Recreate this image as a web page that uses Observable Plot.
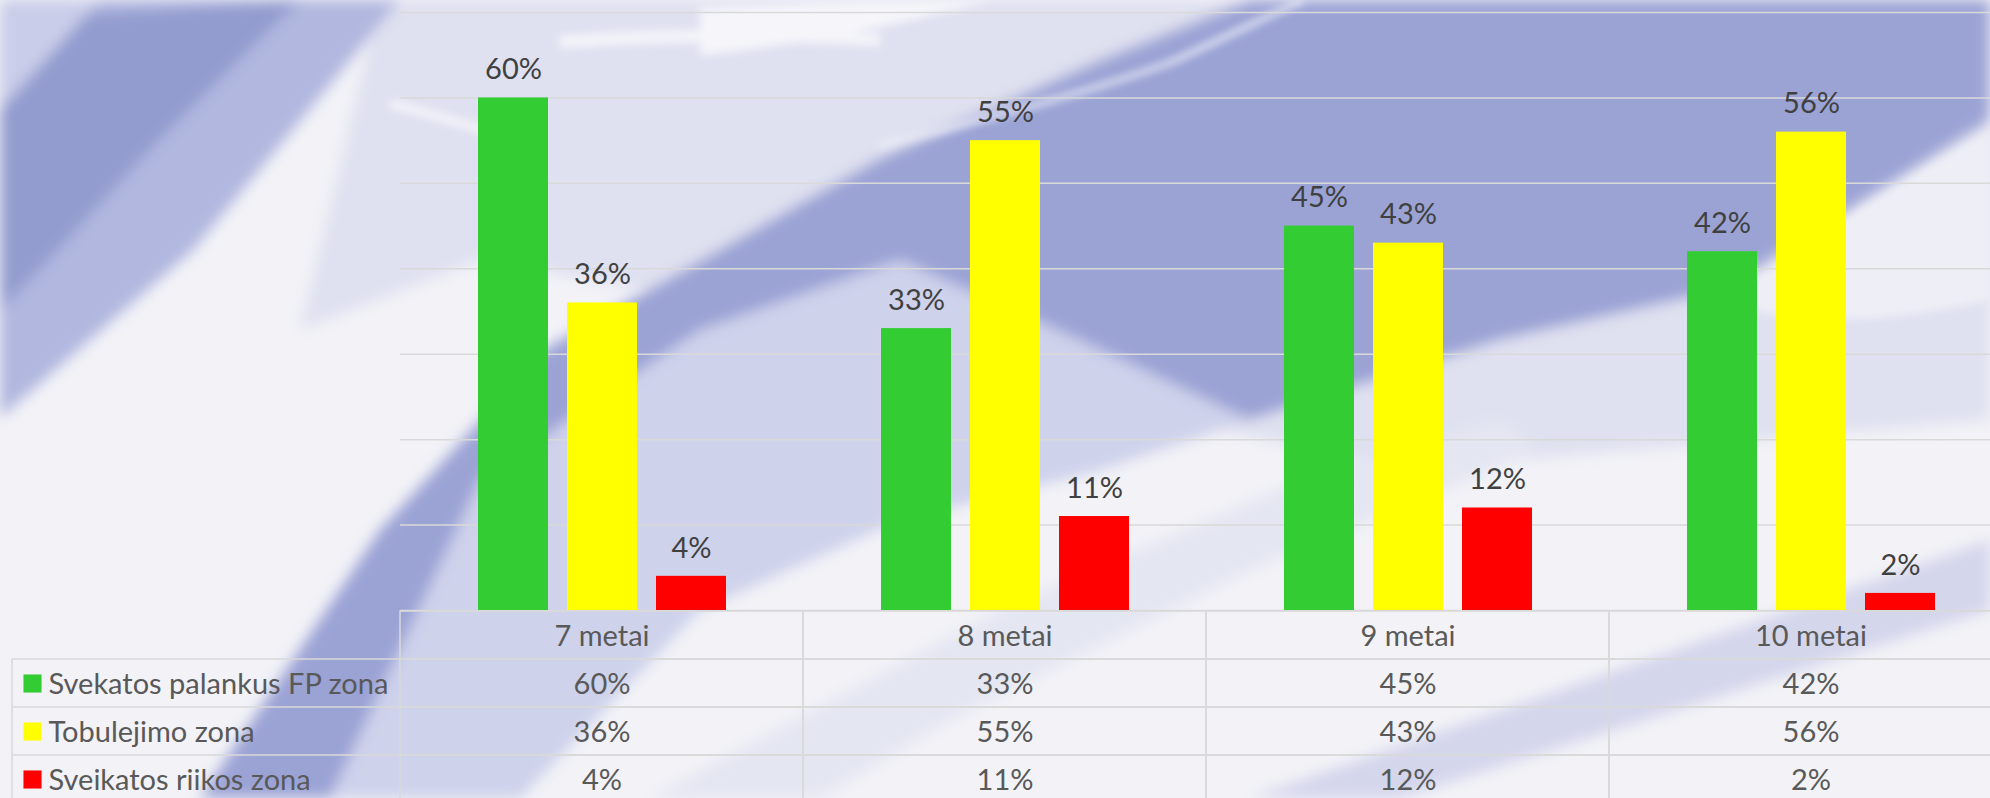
<!DOCTYPE html>
<html>
<head>
<meta charset="utf-8">
<script src="https://cdn.jsdelivr.net/npm/d3@7"></script>
<script src="https://cdn.jsdelivr.net/npm/@observablehq/plot@0.6"></script>
<style>
  html, body { margin: 0; padding: 0; width: 1990px; height: 798px; overflow: hidden; background: #f1f2f7; font-family: Lato, sans-serif; }
  #bg { position: absolute; left: 0; top: 0; z-index: 0; }
  #chart { position: absolute; left: 0; top: 0; z-index: 1; }
  #table { position: absolute; left: 0; top: 610px; z-index: 1; }
  #chart svg, #table svg { max-width: none !important; background: transparent !important; overflow: visible; }
</style>
</head>
<body>
<svg id="bg" width="1990" height="798" xmlns="http://www.w3.org/2000/svg">
  <defs>
    <filter id="blur" x="-20%" y="-20%" width="140%" height="140%"><feGaussianBlur stdDeviation="7"/></filter>
    <filter id="blur2" x="-20%" y="-20%" width="140%" height="140%"><feGaussianBlur stdDeviation="4"/></filter>
  </defs>
  <rect width="1990" height="798" fill="#f2f2f7"/>
  <g filter="url(#blur)">
    <path d="M380,0 L1990,0 L1990,420 L1400,470 L1000,380 L700,300 L480,260 L300,330 Z" fill="#dfe1f0"/>
    <path d="M0,0 L400,0 L193,250 L0,418 Z" fill="#b1b7df"/>
    <path d="M0,20 L300,0 L150,150 L40,270 L0,310 Z" fill="#939ccf"/>
    <path d="M0,0 L100,0 L0,110 Z" fill="#c9cde9"/>
    <path d="M330,798 L480,480 L700,330 L900,260 L1080,340 L1250,420 L1100,470 L900,520 L700,610 L520,798 Z" fill="#ced2eb"/>
    <path d="M200,798 L380,530 L547,348 L880,158 L1100,60 L1250,0 L1990,0 L1990,120 L1722,290 L1500,340 L1250,420 L1080,340 L900,260 L700,330 L480,480 L330,798 Z" fill="#9ba3d5"/>
    <path d="M1250,798 L1990,540 L1990,610 L1400,798 Z" fill="#d4d6ec"/>
    <path d="M650,798 L1000,610 L1300,480 L1500,420 L1540,450 L1250,570 L950,720 L820,798 Z" fill="#e4e6f2"/>
  </g>
  <g filter="url(#blur2)">
    <path d="M700,8 C800,4 900,0 990,0 C900,25 800,45 700,55 Z" fill="#f5f5fa"/>
    <path d="M878,146 C980,120 1080,95 1169,63 C1220,40 1270,15 1303,0" fill="none" stroke="#eef0f8" stroke-width="5"/>
    <path d="M390,104 C420,110 450,120 490,132" fill="none" stroke="#f4f4f9" stroke-width="8"/>
    <path d="M560,42 C650,36 760,32 880,40" fill="none" stroke="#f5f5fa" stroke-width="12"/>
    <path d="M1722,300 C1800,250 1900,180 1990,130 L1990,300 C1900,320 1800,330 1722,300 Z" fill="#eeeff6"/>
  </g>
</svg>
<div id="chart"></div>
<div id="table"></div>
<script>
// ---- data ----
const categories = ["7 metai", "8 metai", "9 metai", "10 metai"];
const seriesNames = ["Svekatos palankus FP zona", "Tobulejimo zona", "Sveikatos riikos zona"];
const greenValues = [0.60, 0.33, 0.45, 0.42];
const yellowValues = [0.36, 0.55, 0.43, 0.56];
const redValues = [0.04, 0.11, 0.12, 0.02];
const seriesColors = ["#33cc33", "#ffff00", "#ff0000"];
const yTicks = [0, 0.1, 0.2, 0.3, 0.4, 0.5, 0.6, 0.7];
const headerKey = "header";

const seriesValues = [greenValues, yellowValues, redValues];
const pct = v => Math.round(v * 100) + "%";

const rows = categories.flatMap((c, i) =>
  seriesNames.map((s, j) => ({cat: c, series: s, value: seriesValues[j][i]}))
);

const FONT = "Lato, 'Open Sans', sans-serif";
const FS = 29;

// ---- bar chart ----
const chart = Plot.plot({
  width: 2013,
  height: 610,
  marginLeft: 399,
  marginRight: 0,
  marginTop: 12,
  marginBottom: 0,
  style: {background: "transparent", maxWidth: "none", overflow: "visible", fontFamily: FONT},
  facet: {data: rows, x: "cat"},
  fx: {domain: categories, padding: 0, axis: null},
  x: {domain: seriesNames, paddingInner: 0.216, paddingOuter: 0.857, axis: null},
  y: {domain: [0, 0.7], axis: null},
  color: {domain: seriesNames, range: seriesColors},
  marks: [
    Plot.ruleY(yTicks, {stroke: "#d9d9d9", strokeWidth: 1.5, strokeOpacity: 1}),
    Plot.barY(rows, {x: "series", y: "value", fill: "series"}),
    Plot.text(rows, {
      x: "series", y: "value", text: d => pct(d.value),
      lineAnchor: "middle", dy: -28, fill: "#404040", fontSize: FS
    })
  ]
});
document.getElementById("chart").appendChild(chart);

// ---- data table ----
const rowKeys = [headerKey, ...seriesNames];
const tableCells = categories.flatMap((c, i) =>
  rowKeys.map((r, k) => ({cat: c, row: r, label: k === 0 ? c : pct(seriesValues[k - 1][i])}))
);

const table = Plot.plot({
  width: 2013,
  height: 193,
  marginLeft: 399,
  marginRight: 0,
  marginTop: 1,
  marginBottom: 0,
  style: {background: "transparent", maxWidth: "none", overflow: "visible", fontFamily: FONT},
  x: {domain: categories, padding: 0, axis: null},
  y: {domain: rowKeys, padding: 0, axis: null},
  color: {domain: seriesNames, range: seriesColors},
  marks: [
    Plot.cell(tableCells, {x: "cat", y: "row", fill: "none", stroke: "#d9d9d9", strokeWidth: 1.5}),
    Plot.text(tableCells, {x: "cat", y: "row", text: "label", fill: "#595959", fontSize: FS, dy: 1}),
    Plot.text(seriesNames, {y: d => d, text: d => d, frameAnchor: "left", textAnchor: "start", dx: -351, dy: 1, fill: "#595959", fontSize: FS}),
    Plot.dot(seriesNames, {y: d => d, frameAnchor: "left", dx: -367, symbol: "square", r: 10.2, fill: d => d, stroke: null})
  ]
});
document.getElementById("table").appendChild(table);

// label-column borders, positioned through the table's own y scale
const ys = table.scale("y");
const yb = d3.scaleBand(ys.domain, ys.range).paddingInner(ys.paddingInner || 0).paddingOuter(ys.paddingOuter || 0);
const svgT = d3.select(table.tagName.toLowerCase() === "svg" ? table : table.querySelector("svg"));
const g = svgT.append("g").attr("stroke", "#d9d9d9").attr("stroke-width", 1.5);
const leftX = 12, colX = 399;
const yTop = yb(seriesNames[0]);
const yBottom = yb(seriesNames[seriesNames.length - 1]) + yb.bandwidth();
g.append("line").attr("x1", leftX).attr("x2", leftX).attr("y1", yTop).attr("y2", yBottom);
seriesNames.forEach(s => {
  g.append("line").attr("x1", leftX).attr("x2", colX).attr("y1", yb(s)).attr("y2", yb(s));
});
</script>
</body>
</html>
